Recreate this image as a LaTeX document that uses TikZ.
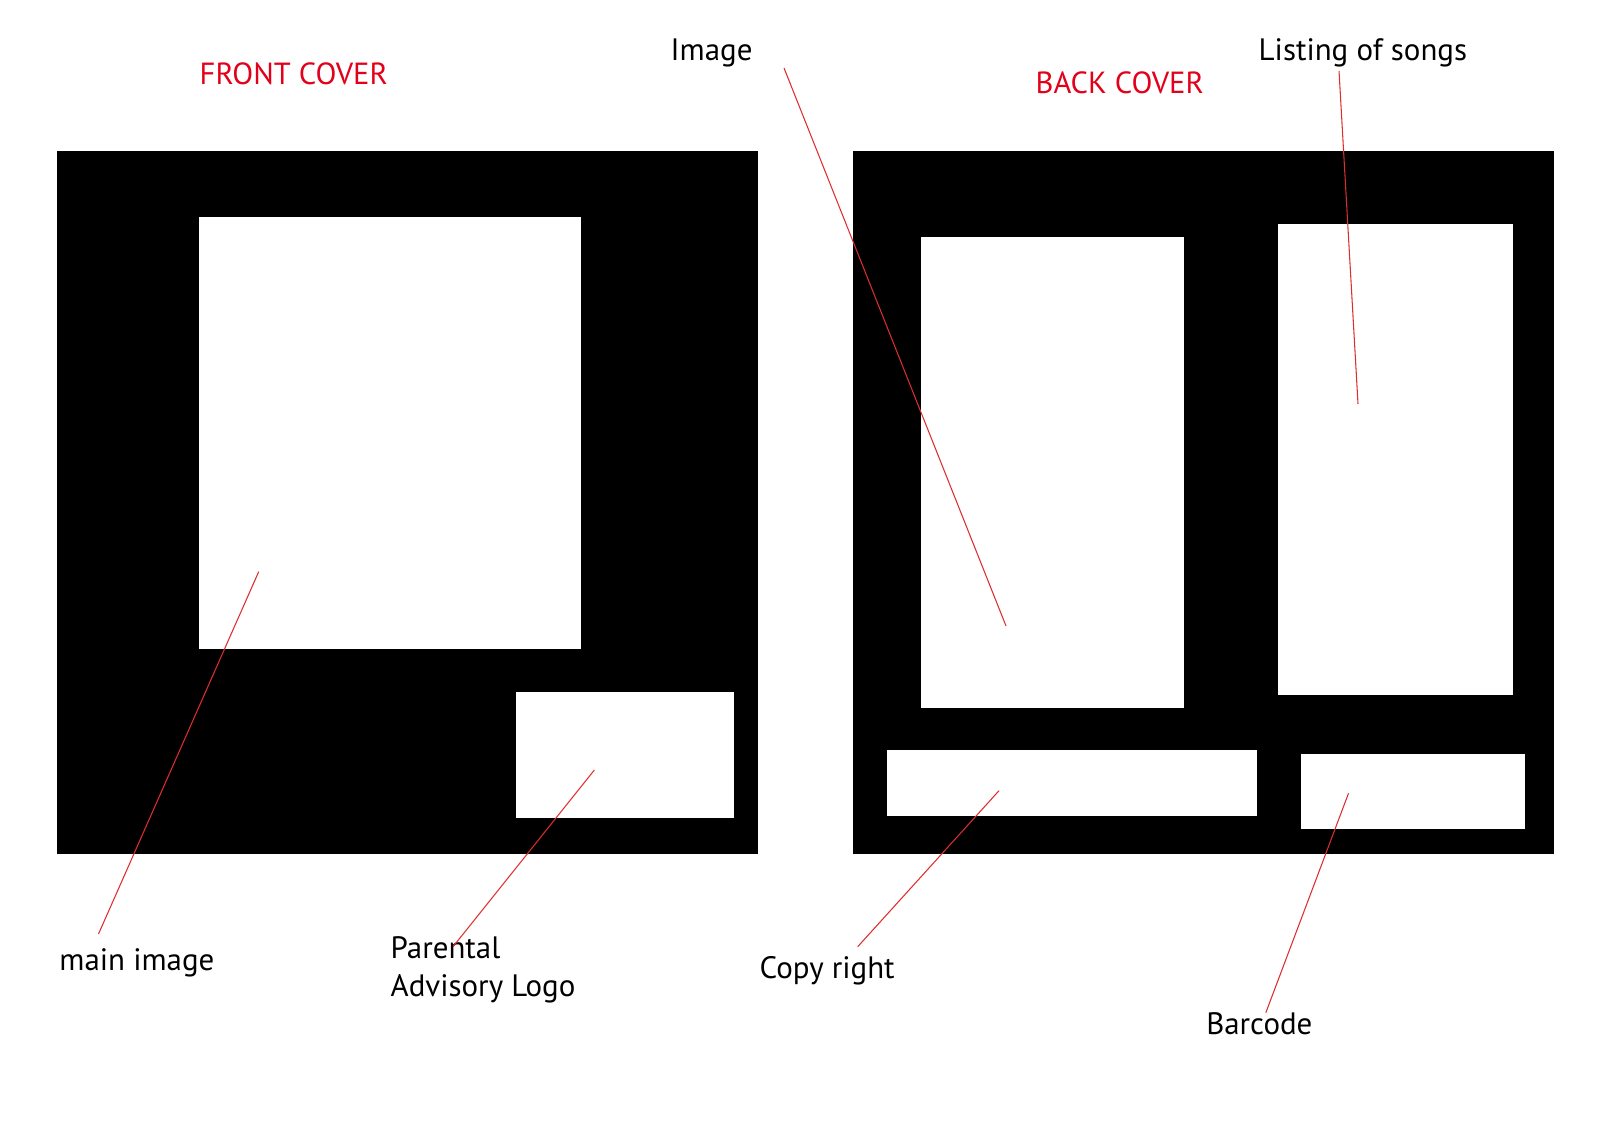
\documentclass[tikz,border=0pt]{standalone}
\usepackage{fontspec}
\setmainfont{PT Sans}
\definecolor{cvred}{RGB}{226,0,26}
\definecolor{cvline}{RGB}{222,45,45}
\usetikzlibrary{positioning}

\begin{document}
\begin{tikzpicture}[
  coverbox/.style={fill=black, inner sep=0pt, outer sep=0pt},
  slotbox/.style={fill=white, inner sep=0pt, outer sep=0pt},
  title/.style={font=\fontsize{8.7}{10.8}\selectfont, text=cvred, anchor=base west, inner sep=0pt},
  tag/.style={font=\fontsize{8.8}{10.8}\selectfont, anchor=base west, inner sep=0pt, align=left},
  pointer/.style={cvline, line width=0.3pt}]

\useasboundingbox (0,0) rectangle (16,11.43);

% Front cover
\node[coverbox, minimum width=7.01cm, minimum height=7.03cm] (front) at (4.075,6.405) {};
\node[slotbox, minimum width=3.82cm, minimum height=4.32cm] (mainimg) at (3.895,7.10) {};
\node[slotbox, minimum width=2.18cm, minimum height=1.26cm] (advisory) at (6.25,3.88) {};

% Back cover
\node[coverbox, minimum width=7.01cm, minimum height=7.03cm] (back) at (12.035,6.405) {};
\node[slotbox, minimum width=2.63cm, minimum height=4.71cm] (backimg) at (10.525,6.705) {};
\node[slotbox, minimum width=2.35cm, minimum height=4.71cm] (songs) at (13.952,6.835) {};
\node[slotbox, minimum width=3.70cm, minimum height=0.66cm] (copyr) at (10.72,3.60) {};
\node[slotbox, minimum width=2.24cm, minimum height=0.75cm] (barcode) at (14.125,3.515) {};

% Titles
\node[title] (fronttitle) at (1.99,10.58) {FRONT COVER};
\node[title] (backtitle) at (10.35,10.49) {BACK COVER};

% Labels
\node[tag] (lblimage) at (6.70,10.82) {Image};
\node[tag] (lblsongs) at (12.58,10.82) {Listing of songs};
\node[tag] (lblmain) at (0.587,1.723) {main image};
\node[tag, anchor=north west] (lbladv) at (3.90,2.075) {Parental\\Advisory Logo};
\node[tag] (lblcopy) at (7.59,1.65) {Copy right};
\node[tag] (lblbar) at (12.056,1.09) {Barcode};

% Pointer ends
\coordinate (pimage) at (7.84,10.75);
\coordinate (psongs) at (13.39,10.72);
\coordinate (pmain) at (0.985,2.09);
\coordinate (padv) at (4.53,1.963);
\coordinate (pcopy) at (8.577,1.963);
\coordinate (pbar) at (12.658,1.303);
\coordinate (timage) at (10.06,5.17);
\coordinate (tsongs) at (13.58,7.39);
\coordinate (tmain) at (2.587,5.713);
\coordinate (tadv) at (5.944,3.73);
\coordinate (tcopy) at (9.99,3.523);
\coordinate (tbar) at (13.485,3.497);

% Pointers
\draw[pointer] (pimage) -- (timage);
\draw[pointer] (psongs) -- (tsongs);
\draw[pointer] (pmain) -- (tmain);
\draw[pointer] (padv) -- (tadv);
\draw[pointer] (pcopy) -- (tcopy);
\draw[pointer] (pbar) -- (tbar);

\end{tikzpicture}
\end{document}
